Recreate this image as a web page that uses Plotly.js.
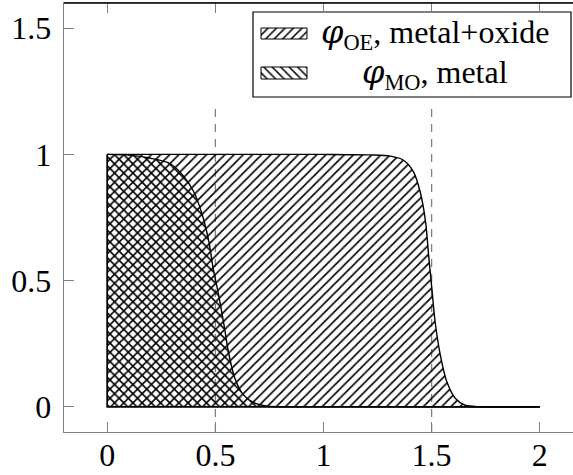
<!DOCTYPE html>
<html>
<head>
<meta charset="utf-8">
<script src="https://cdn.plot.ly/plotly-3.0.1.min.js"></script>
<style>
html,body{margin:0;padding:0;overflow:hidden;background:#fff;}
#wrap{width:573px;height:475px;overflow:hidden;}
#chart{width:590px;height:475px;}
</style>
</head>
<body>
<div id="wrap"><div id="chart"></div></div>
<script>
// Data
const oeX = [0, 1.0, 1.22, 1.31, 1.37, 1.416, 1.447, 1.472, 1.486, 1.501, 1.516, 1.54, 1.57, 1.609, 1.655, 1.724, 2.0];
const oeY = [1.0, 1.0, 0.998, 0.993, 0.977, 0.931, 0.852, 0.733, 0.601, 0.469, 0.338, 0.206, 0.1, 0.034, 0.006, 0, 0];
const moX = [0, 0.1, 0.2, 0.29, 0.35, 0.40, 0.44, 0.47, 0.49, 0.515, 0.54, 0.56, 0.59, 0.63, 0.68, 0.74, 0.85, 2.0];
const moY = [1.0, 0.997, 0.985, 0.964, 0.917, 0.852, 0.759, 0.654, 0.548, 0.443, 0.324, 0.219, 0.113, 0.047, 0.015, 0.002, 0, 0];
const dashX = [0.5, 1.5];
const dashY = [-0.1, 1.2];
const PHI = '<span style="font-family:DejaVu Serif;font-style:italic">φ</span>';
const seriesNames = [PHI + '<sub>OE</sub>, metal+oxide', PHI + '<sub>MO</sub>, metal'];
const xTicks = [0, 0.5, 1, 1.5, 2];
const yTicks = [0, 0.5, 1, 1.5];

const FONT = 'Liberation Serif, Times New Roman, serif';
const GRAY = '#808080';

// plot area geometry (px) for paper-fraction legend placement
const W = 590, H = 475, ML = 64, MR = 7, MT = 3, MB = 43;
const PW = W - ML - MR, PH = H - MT - MB;
const fx = px => (px - ML) / PW;
const fy = py => (H - MB - py) / PH;

const traces = [];
dashX.forEach(x => traces.push({
  x: [x, x], y: dashY, mode: 'lines', hoverinfo: 'skip', showlegend: false,
  line: {color: GRAY, width: 1.3, dash: '8px,7px'}
}));
function area(xs, ys, shape) {
  return {
    x: xs, y: ys, mode: 'lines', fill: 'tozeroy', showlegend: false, hoverinfo: 'skip',
    line: {color: 'black', width: 1.4, shape: 'spline', smoothing: 0.8},
    fillcolor: 'rgba(0,0,0,0)',
    fillpattern: {shape: shape, fgcolor: 'black', bgcolor: 'rgba(0,0,0,0)', size: 6.5, solidity: 0.25}
  };
}
traces.push(area(oeX, oeY, '/'));
traces.push(area(moX, moY, '\\'));
// outline edges (left edge x=0 and baseline)
[[oeX, oeY], [moX, moY]].forEach(([xs, ys]) => traces.push({
  x: [xs[0], xs[0], xs[xs.length - 1]], y: [ys[0], 0, ys[ys.length - 1]],
  mode: 'lines', showlegend: false, hoverinfo: 'skip', line: {color: 'black', width: 1.4}
}));

// legend swatches
const swRows = [[28, 39, '/'], [67, 79, '\\']];
swRows.forEach(([t, b, sh]) => {
  const x0 = fx(261), x1 = fx(307), y0 = fy(b), y1 = fy(t);
  traces.push({
    x: [x0, x1, x1, x0, x0], y: [y0, y0, y1, y1, y0], xaxis: 'x2', yaxis: 'y2',
    mode: 'lines', fill: 'toself', showlegend: false, hoverinfo: 'skip',
    line: {color: 'black', width: 1},
    fillcolor: 'rgba(0,0,0,0)',
    fillpattern: {shape: sh, fgcolor: 'black', bgcolor: 'rgba(0,0,0,0)', size: 6, solidity: 0.25}
  });
});

const axBase = {
  showgrid: false, zeroline: false, showline: true, linecolor: GRAY, linewidth: 1.4,
  mirror: 'ticks', ticks: 'inside', ticklen: 10, tickwidth: 1.2, tickcolor: GRAY,
  tickfont: {family: FONT, size: 32, color: 'black'}, tickmode: 'array'
};

const layout = {
  width: W, height: H,
  margin: {l: ML, r: MR, t: MT, b: MB},
  paper_bgcolor: 'white', plot_bgcolor: 'white',
  showlegend: false,
  xaxis: Object.assign({}, axBase, {range: [-0.2, 2.2], tickvals: xTicks, ticktext: xTicks.map(String), ticklabelstandoff: -6}),
  yaxis: Object.assign({}, axBase, {range: [-0.1, 1.6], tickvals: yTicks, ticktext: yTicks.map(String), ticklabelstandoff: 5}),
  xaxis2: {overlaying: 'x', range: [0, 1], visible: false, fixedrange: true},
  yaxis2: {overlaying: 'y', range: [0, 1], visible: false, fixedrange: true},
  shapes: [
    {type: 'line', xref: 'paper', yref: 'paper', x0: 0, x1: 1, y0: 1, y1: 1, line: {color: 'black', width: 1.3}, layer: 'above'},
    {type: 'rect', xref: 'paper', yref: 'paper', x0: fx(253), x1: fx(571), y0: fy(97), y1: fy(12),
     line: {color: 'black', width: 1.2}, fillcolor: 'white', layer: 'below'}
  ],
  annotations: [
    {text: seriesNames[0], xref: 'paper', yref: 'paper', x: fx(434.5), y: fy(34), xanchor: 'center', yanchor: 'middle', showarrow: false, font: {family: FONT, size: 32, color: 'black'}},
    {text: seriesNames[1], xref: 'paper', yref: 'paper', x: fx(434.5), y: fy(74), xanchor: 'center', yanchor: 'middle', showarrow: false, font: {family: FONT, size: 32, color: 'black'}}
  ]
};

Plotly.newPlot('chart', traces, layout, {staticPlot: true, displayModeBar: false});
</script>
</body>
</html>
